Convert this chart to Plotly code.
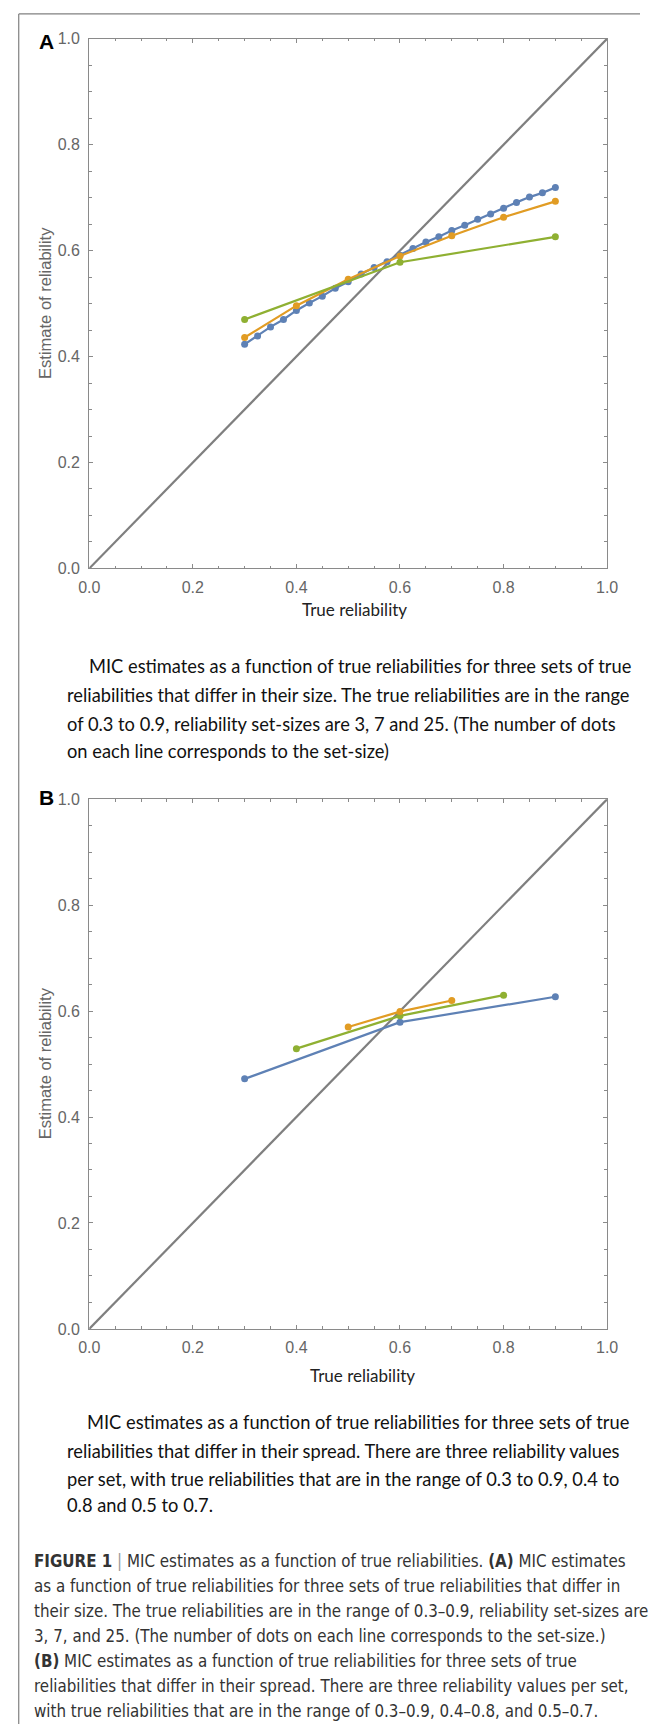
import plotly.graph_objects as go

W, H = 651, 1733

# ---------------- data ----------------
diag_x = [0.0, 1.0]
diag_y = [0.0, 1.0]

# Panel A: set sizes 25, 7, 3 over 0.3-0.9
a_blue_x = [0.3 + 0.025 * i for i in range(25)]
a_blue_y = [0.423, 0.439, 0.456, 0.470, 0.487, 0.501, 0.514, 0.529, 0.541,
            0.556, 0.568, 0.579, 0.591, 0.604, 0.616, 0.626, 0.638, 0.648,
            0.659, 0.669, 0.680, 0.691, 0.701, 0.709, 0.719]
a_orange_x = [0.3, 0.4, 0.5, 0.6, 0.7, 0.8, 0.9]
a_orange_y = [0.436, 0.496, 0.546, 0.590, 0.628, 0.663, 0.693]
a_green_x = [0.3, 0.6, 0.9]
a_green_y = [0.470, 0.578, 0.626]

# Panel B: three values per set, different spread
b_blue_x = [0.3, 0.6, 0.9]
b_blue_y = [0.472, 0.579, 0.627]
b_green_x = [0.4, 0.6, 0.8]
b_green_y = [0.529, 0.591, 0.630]
b_orange_x = [0.5, 0.6, 0.7]
b_orange_y = [0.570, 0.599, 0.620]

tick_vals = [0.0, 0.2, 0.4, 0.6, 0.8, 1.0]
tick_text = ["0.0", "0.2", "0.4", "0.6", "0.8", "1.0"]

BLUE = "#5E81B5"
ORANGE = "#E19C24"
GREEN = "#8FB032"
GRAY = "#7f7f7f"

def px_x(p):
    return p / W

def px_y(p):
    return 1 - p / H

fig = go.Figure()

def add_series(x, y, color, xa, ya, markers=True):
    fig.add_trace(go.Scatter(
        x=x, y=y, xaxis=xa, yaxis=ya,
        mode="lines+markers" if markers else "lines",
        line=dict(color=color, width=2.2),
        marker=dict(color=color, size=7),
        showlegend=False, hoverinfo="skip"))

# Panel A
add_series(diag_x, diag_y, GRAY, "x", "y", markers=False)
add_series(a_blue_x, a_blue_y, BLUE, "x", "y")
add_series(a_orange_x, a_orange_y, ORANGE, "x", "y")
add_series(a_green_x, a_green_y, GREEN, "x", "y")
# Panel B
add_series(diag_x, diag_y, GRAY, "x2", "y2", markers=False)
add_series(b_blue_x, b_blue_y, BLUE, "x2", "y2")
add_series(b_green_x, b_green_y, GREEN, "x2", "y2")
add_series(b_orange_x, b_orange_y, ORANGE, "x2", "y2")

axis_common = dict(
    range=[0, 1], showgrid=False, zeroline=False,
    showline=True, linecolor="#8a8a8a", linewidth=1.3, mirror="allticks",
    ticks="inside", ticklen=4, tickwidth=1, tickcolor="#8a8a8a",
    tickvals=tick_vals, ticktext=tick_text,
    tickfont=dict(family="Liberation Sans, Arial, sans-serif", size=16, color="#666666"),
    minor=dict(tickvals=[i * 0.05 for i in range(21)], ticks="inside",
               ticklen=2.5, tickcolor="#8a8a8a", tickwidth=1),
    fixedrange=True,
)
xaxis_common = dict(axis_common, ticklabelstandoff=4)
yaxis_common = dict(axis_common, ticklabelstandoff=5)

xdom = [px_x(81), px_x(617)]
fig.update_layout(
    width=W, height=H, margin=dict(l=0, r=0, t=0, b=0),
    paper_bgcolor="white", plot_bgcolor="white",
    xaxis=dict(domain=xdom, anchor="y", **xaxis_common),
    yaxis=dict(domain=[px_y(566), px_y(31)], anchor="x", **yaxis_common),
    xaxis2=dict(domain=xdom, anchor="y2", **xaxis_common),
    yaxis2=dict(domain=[px_y(1334), px_y(799)], anchor="x2", **yaxis_common),
)

ann = []
def text(x, y, s, size, color, family, xanchor="left", angle=0):
    ann.append(dict(x=px_x(x), y=px_y(y), xref="paper", yref="paper",
                    text=s, showarrow=False, xanchor=xanchor, yanchor="middle",
                    textangle=angle,
                    font=dict(size=size, color=color, family=family)))

ARIAL = "Liberation Sans, Arial, sans-serif"
CAL = "Lato, Open Sans, sans-serif"
NARROW = "Liberation Sans Narrow, Arial Narrow, DejaVu Sans Condensed, sans-serif"

# panel letters
text(27, 34, "<b>A</b>", 21, "#000000", ARIAL)
text(27, 797, "<b>B</b>", 21, "#000000", ARIAL)

# axis titles
text(35, 298, "Estimate of reliability", 16.5, "#666666", ARIAL, xanchor="center", angle=-90)
text(35, 1066, "Estimate of reliability", 16.5, "#666666", ARIAL, xanchor="center", angle=-90)
text(356, 607, "True reliability", 17, "#222222", CAL, xanchor="center")
text(364, 1381, "True reliability", 17, "#222222", CAL, xanchor="center")

# sub-captions
capA = ["MIC estimates as a function of true reliabilities for three sets of true",
        "reliabilities that differ in their size. The true reliabilities are in the range",
        "of 0.3 to 0.9, reliability set-sizes are 3, 7 and 25. (The number of dots",
        "on each line corresponds to the set-size)"]
capA_y = [665, 694, 723, 750]
for i, (s, y) in enumerate(zip(capA, capA_y)):
    text(79 if i == 0 else 56, y, s, 18.3, "#111111", CAL)

capB = ["MIC estimates as a function of true reliabilities for three sets of true",
        "reliabilities that differ in their spread. There are three reliability values",
        "per set, with true reliabilities that are in the range of 0.3 to 0.9, 0.4 to",
        "0.8 and 0.5 to 0.7."]
capB_y = [1428, 1457, 1486, 1512]
for i, (s, y) in enumerate(zip(capB, capB_y)):
    text(77 if i == 0 else 56, y, s, 18.3, "#111111", CAL)

fig_cap = [
    "<b>FIGURE 1</b> <span style='color:#999999'>|</span> MIC estimates as a function of true reliabilities. <b>(A)</b> MIC estimates",
    "as a function of true reliabilities for three sets of true reliabilities that differ in",
    "their size. The true reliabilities are in the range of 0.3–0.9, reliability set-sizes are",
    "3, 7, and 25. (The number of dots on each line corresponds to the set-size.)",
    "<b>(B)</b> MIC estimates as a function of true reliabilities for three sets of true",
    "reliabilities that differ in their spread. There are three reliability values per set,",
    "with true reliabilities that are in the range of 0.3–0.9, 0.4–0.8, and 0.5–0.7.",
]
for i, s in enumerate(fig_cap):
    text(22, 1568 + 25.3 * i, s, 16.8, "#333333", NARROW)

fig.update_layout(annotations=ann)

# outer frame (top and left edges)
fig.add_shape(type="line", xref="paper", yref="paper",
              x0=px_x(8), y0=px_y(6), x1=1, y1=px_y(6),
              line=dict(color="#808080", width=1.2))
fig.add_shape(type="line", xref="paper", yref="paper",
              x0=px_x(8), y0=px_y(6), x1=px_x(8), y1=0,
              line=dict(color="#808080", width=1.2))

fig.write_html("out.html",
               config={"displayModeBar": False},
               post_script="document.body.style.margin='0';document.body.style.overflow='hidden';")
